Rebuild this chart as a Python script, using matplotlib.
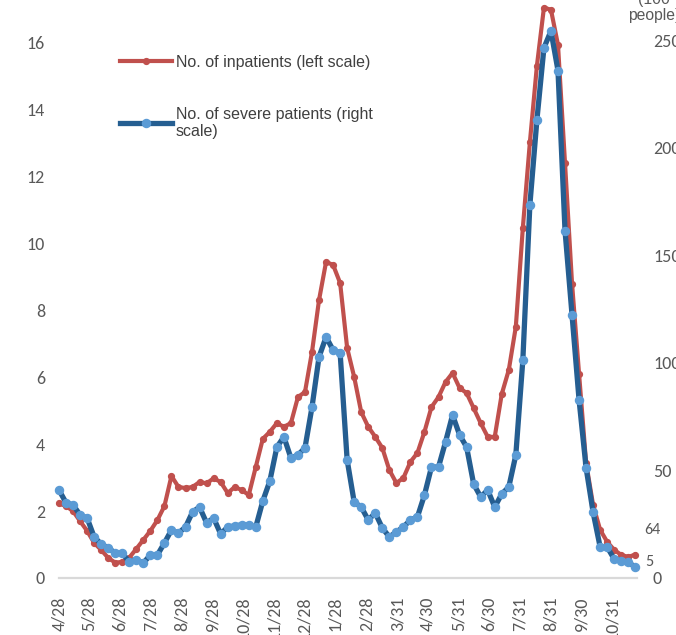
import numpy as np
import pandas as pd
import matplotlib
matplotlib.use("Agg")
import matplotlib.pyplot as plt

# weekly values
dates = pd.date_range("2020-04-28", periods=83, freq="7D")

inpatients = [2.23, 2.15, 2.00, 1.70, 1.41, 1.05, 0.84, 0.60, 0.46, 0.48,
              0.61, 0.87, 1.14, 1.41, 1.73, 2.15, 3.05, 2.72, 2.69, 2.72,
              2.87, 2.83, 2.98, 2.87, 2.54, 2.72, 2.63, 2.48, 3.32, 4.16,
              4.37, 4.63, 4.52, 4.63, 5.41, 5.56, 6.76, 8.31, 9.45, 9.36,
              8.82, 6.88, 6.01, 4.96, 4.52, 4.22, 3.89, 3.23, 2.84, 2.99,
              3.47, 3.74, 4.37, 5.11, 5.41, 5.86, 6.13, 5.68, 5.53, 5.08,
              4.63, 4.22, 4.22, 5.50, 6.22, 7.51, 10.47, 13.02, 15.31, 17.05,
              16.99, 15.94, 12.4, 8.8, 6.1, 3.44, 2.18, 1.44, 1.08, 0.84,
              0.69, 0.63, 0.70]

severe = [40.9, 35.0, 34.0, 29.3, 27.9, 19.1, 15.8, 14.0, 11.6, 11.6,
          7.4, 8.4, 7.0, 10.7, 10.7, 16.3, 22.3, 20.9, 23.7, 30.7,
          33.0, 25.6, 27.9, 20.5, 23.7, 24.2, 24.7, 24.7, 23.7, 35.8,
          45.1, 60.9, 65.6, 55.8, 57.2, 60.5, 79.5, 102.8, 112.1, 106.0,
          104.7, 54.9, 35.3, 33.0, 27.0, 30.2, 23.3, 19.1, 21.4, 23.7,
          27.0, 28.4, 38.6, 51.6, 51.6, 63.3, 75.8, 66.5, 60.9, 43.7,
          37.7, 40.9, 33.0, 39.1, 42.3, 57.2, 101.4, 173.5, 213.0, 246.5,
          254.4, 236.0, 161.6, 122.3, 82.8, 51.2, 30.5, 14.4, 14.4, 8.8,
          7.9, 7.4, 5.0]

tick_dates = pd.to_datetime(["2020-04-28", "2020-05-28", "2020-06-28", "2020-07-28",
                             "2020-08-28", "2020-09-28", "2020-10-28", "2020-11-28",
                             "2020-12-28", "2021-01-28", "2021-02-28", "2021-03-31",
                             "2021-04-30", "2021-05-31", "2021-06-30", "2021-07-31",
                             "2021-08-31", "2021-09-30", "2021-10-31"])
tick_labels = ["4/28", "5/28", "6/28", "7/28", "8/28", "9/28", "10/28", "11/28",
               "12/28", "1/28", "2/28", "3/31", "4/30", "5/31", "6/30", "7/31",
               "8/31", "9/30", "10/31"]

label_red = "No. of inpatients (left scale)"
label_blue = "No. of severe patients (right\nscale)"

tick_font = ["Carlito", "Lato", "DejaVu Sans"]
text_font = ["Liberation Sans", "DejaVu Sans"]
gray = "#595959"

fig = plt.figure(figsize=(6.76, 6.35), dpi=100)
ax = fig.add_axes([59 / 676, 57 / 635, 578 / 676, 578 / 635])
ax2 = ax.twinx()

l1, = ax.plot(dates, inpatients, color="#C0504D", lw=3, marker="o", ms=4.2,
              mfc="#C0504D", mec="#C0504D", solid_joinstyle="round", clip_on=False)
l2, = ax2.plot(dates, severe, color="#255E91", lw=3.8, marker="o", ms=5.8,
               mfc="#5B9BD5", mec="#5B9BD5", solid_joinstyle="round", clip_on=False)

ax.set_xlim(pd.Timestamp("2020-04-28"), pd.Timestamp("2020-04-28") + pd.Timedelta(days=575.7))
ax.set_ylim(0, 17.28)
ax2.set_ylim(0, 268.8)

ax.set_yticks(np.arange(0, 17, 2))
ax2.set_yticks(np.arange(0, 251, 50))
ax.set_xticks(tick_dates)
ax.set_xticklabels(tick_labels, rotation=90, ha="center", va="top")

for a in (ax, ax2):
    for s in a.spines.values():
        s.set_visible(False)
ax.spines["bottom"].set_visible(True)
ax.spines["bottom"].set_color("#D9D9D9")
ax.spines["bottom"].set_linewidth(1.6)

ax.tick_params(axis="y", length=0, pad=10, labelsize=13, labelcolor=gray)
ax.tick_params(axis="x", length=0, pad=13.5, labelsize=13, labelcolor=gray)
ax2.tick_params(axis="y", length=0, pad=11.5, labelsize=13, labelcolor=gray)
for t in ax.get_xticklabels() + ax.get_yticklabels() + ax2.get_yticklabels():
    t.set_fontfamily(tick_font)

# data labels on the last points
ax.annotate("64", xy=(dates[-1], inpatients[-1]), xytext=(6.5, 18),
            textcoords="offset points", ha="left", va="center",
            fontsize=11.5, color=gray, family=tick_font)
ax2.annotate("5", xy=(dates[-1], severe[-1]), xytext=(7, 3.5),
             textcoords="offset points", ha="left", va="center",
             fontsize=11.5, color=gray, family=tick_font)

fig.text(654 / 676, 1 - 23 / 635, "(100\npeople)", ha="center", va="bottom",
         fontsize=11.3, color=gray, family=text_font, linespacing=1.1)

leg = ax2.legend([l1, l2], [label_red, label_blue], loc="upper left",
                 bbox_to_anchor=(120 / 676, 1 - 55 / 635), bbox_transform=fig.transFigure,
                 frameon=False, borderpad=0, borderaxespad=0, handlelength=3.25,
                 handletextpad=0.25, labelspacing=2.3, numpoints=1,
                 prop={"family": text_font, "size": 11.5})
for t in leg.get_texts():
    t.set_color("#404040")

fig.savefig("out.png", dpi=100)
